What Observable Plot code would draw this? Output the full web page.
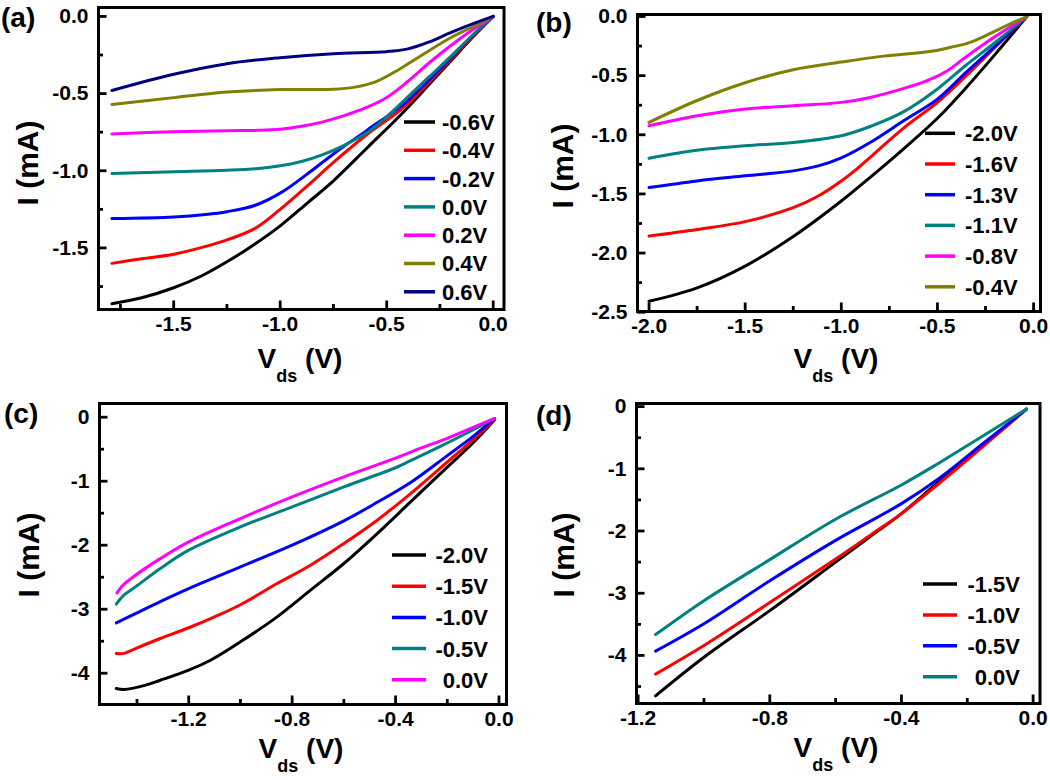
<!DOCTYPE html>
<html><head><meta charset="utf-8">
<script src="https://cdn.jsdelivr.net/npm/d3@7"></script>
<script src="https://cdn.jsdelivr.net/npm/@observablehq/plot@0.6"></script>
<style>
html,body{margin:0;padding:0;background:#fff;}
#wrap{position:relative;width:1050px;height:780px;overflow:hidden;background:#fff;}
#wrap svg{position:absolute;}
</style></head><body><div id="wrap"></div>
<script>
// ---------- DATA ----------
// Panel (a)
const aLabels = ["-0.6V","-0.4V","-0.2V","0.0V","0.2V","0.4V","0.6V"];
const aColors = ["#000000","#ff0000","#0000ff","#008080","#ff00ff","#808000","#000080"];
const a_m06 = [[-1.79,-1.862],[-1.65,-1.823],[-1.5,-1.758],[-1.37,-1.682],[-1.25,-1.59],[-1.12,-1.476],[-1.0,-1.357],[-0.87,-1.206],[-0.75,-1.065],[-0.59,-0.849],[-0.43,-0.632],[-0.3,-0.44],[-0.2,-0.29],[-0.1,-0.14],[0,0]];
const a_m04 = [[-1.79,-1.60],[-1.65,-1.57],[-1.5,-1.541],[-1.35,-1.49],[-1.25,-1.448],[-1.12,-1.375],[-1.0,-1.25],[-0.87,-1.095],[-0.75,-0.946],[-0.59,-0.762],[-0.43,-0.60],[-0.3,-0.425],[-0.2,-0.28],[-0.1,-0.135],[0,0]];
const a_m02 = [[-1.79,-1.31],[-1.5,-1.299],[-1.35,-1.283],[-1.25,-1.265],[-1.12,-1.225],[-1.0,-1.145],[-0.87,-1.018],[-0.75,-0.891],[-0.59,-0.735],[-0.43,-0.578],[-0.3,-0.41],[-0.2,-0.27],[-0.1,-0.13],[0,0]];
const a_p00 = [[-1.79,-1.017],[-1.5,-1.006],[-1.25,-0.996],[-1.1,-0.985],[-1.0,-0.968],[-0.9,-0.94],[-0.8,-0.895],[-0.7,-0.835],[-0.59,-0.751],[-0.5,-0.65],[-0.43,-0.56],[-0.3,-0.39],[-0.2,-0.26],[-0.1,-0.125],[0,0]];
const a_p02 = [[-1.79,-0.762],[-1.5,-0.747],[-1.25,-0.74],[-1.1,-0.738],[-1.0,-0.731],[-0.9,-0.712],[-0.8,-0.683],[-0.7,-0.643],[-0.6,-0.593],[-0.5,-0.525],[-0.4,-0.42],[-0.3,-0.30],[-0.2,-0.19],[-0.1,-0.09],[0,0]];
const a_p04 = [[-1.79,-0.57],[-1.5,-0.526],[-1.25,-0.49],[-1.0,-0.474],[-0.75,-0.472],[-0.65,-0.458],[-0.55,-0.422],[-0.45,-0.35],[-0.35,-0.264],[-0.2,-0.138],[-0.1,-0.07],[0,0]];
const a_p06 = [[-1.79,-0.48],[-1.5,-0.375],[-1.25,-0.306],[-1.0,-0.267],[-0.75,-0.241],[-0.5,-0.228],[-0.4,-0.21],[-0.3,-0.165],[-0.2,-0.105],[-0.1,-0.05],[0,0]];
const aXTicks = [-1.5,-1.0,-0.5,0.0];
const aXMinor = [-1.75,-1.25,-0.75,-0.25];
const aYTicks = [0.0,-0.5,-1.0,-1.5];
const aYMinor = [-0.25,-0.75,-1.25,-1.75];

// Panel (b)
const bLabels = ["-2.0V","-1.6V","-1.3V","-1.1V","-0.8V","-0.4V"];
const bColors = ["#000000","#ff0000","#0000ff","#008080","#ff00ff","#808000"];
const b_m20 = [[-2.0,-2.407],[-1.75,-2.294],[-1.5,-2.11],[-1.25,-1.86],[-1.0,-1.56],[-0.85,-1.36],[-0.67,-1.11],[-0.5,-0.86],[-0.35,-0.6],[-0.2,-0.32],[-0.035,0]];
const b_m16 = [[-2.0,-1.856],[-1.75,-1.80],[-1.5,-1.734],[-1.25,-1.616],[-1.12,-1.517],[-1.0,-1.39],[-0.92,-1.29],[-0.85,-1.19],[-0.67,-0.935],[-0.5,-0.726],[-0.35,-0.50],[-0.2,-0.26],[-0.035,0]];
const b_m13 = [[-2.0,-1.446],[-1.75,-1.39],[-1.5,-1.347],[-1.25,-1.305],[-1.12,-1.263],[-1.0,-1.195],[-0.85,-1.065],[-0.67,-0.875],[-0.5,-0.698],[-0.35,-0.47],[-0.2,-0.25],[-0.035,0]];
const b_m11 = [[-2.0,-1.198],[-1.75,-1.13],[-1.5,-1.093],[-1.25,-1.065],[-1.0,-1.008],[-0.85,-0.93],[-0.67,-0.8],[-0.5,-0.613],[-0.35,-0.41],[-0.2,-0.22],[-0.035,0]];
const b_m08 = [[-2.0,-0.924],[-1.75,-0.839],[-1.5,-0.782],[-1.25,-0.754],[-1.0,-0.726],[-0.85,-0.684],[-0.67,-0.605],[-0.55,-0.54],[-0.45,-0.46],[-0.35,-0.34],[-0.2,-0.17],[-0.035,0]];
const b_m04 = [[-2.0,-0.895],[-1.75,-0.71],[-1.5,-0.56],[-1.25,-0.45],[-1.0,-0.385],[-0.78,-0.335],[-0.53,-0.294],[-0.43,-0.26],[-0.33,-0.218],[-0.23,-0.147],[-0.14,-0.076],[-0.035,0]];
const bXTicks = [-2.0,-1.5,-1.0,-0.5,0.0];
const bXMinor = [-1.75,-1.25,-0.75,-0.25];
const bYTicks = [0.0,-0.5,-1.0,-1.5,-2.0,-2.5];
const bYMinor = [-0.25,-0.75,-1.25,-1.75,-2.25];

// Panel (c)
const cLabels = ["-2.0V","-1.5V","-1.0V","-0.5V","0.0V"];
const cColors = ["#000000","#ff0000","#0000ff","#008080","#ff00ff"];
const c_m20 = [[-1.48,-4.24],[-1.45,-4.255],[-1.37,-4.19],[-1.31,-4.11],[-1.2,-3.953],[-1.116,-3.797],[-1.0,-3.51],[-0.858,-3.12],[-0.729,-2.703],[-0.6,-2.286],[-0.471,-1.818],[-0.342,-1.323],[-0.2,-0.78],[-0.1,-0.40],[-0.017,-0.04]];
const c_m15 = [[-1.48,-3.693],[-1.45,-3.69],[-1.406,-3.615],[-1.31,-3.458],[-1.2,-3.29],[-1.1,-3.12],[-1.0,-2.93],[-0.858,-2.599],[-0.729,-2.312],[-0.6,-1.974],[-0.471,-1.609],[-0.342,-1.193],[-0.2,-0.70],[-0.1,-0.35],[-0.017,-0.03]];
const c_m10 = [[-1.48,-3.214],[-1.406,-3.068],[-1.31,-2.88],[-1.2,-2.677],[-1.0,-2.339],[-0.8,-2.0],[-0.6,-1.62],[-0.471,-1.33],[-0.342,-1.02],[-0.2,-0.6],[-0.1,-0.3],[-0.017,-0.02]];
const c_m05 = [[-1.48,-2.92],[-1.451,-2.78],[-1.406,-2.651],[-1.31,-2.365],[-1.2,-2.078],[-1.0,-1.714],[-0.8,-1.401],[-0.6,-1.089],[-0.4,-0.79],[-0.342,-0.68],[-0.213,-0.43],[-0.116,-0.23],[-0.017,-0.02]];
const c_p00 = [[-1.477,-2.745],[-1.458,-2.64],[-1.406,-2.469],[-1.31,-2.21],[-1.2,-1.948],[-1.0,-1.583],[-0.8,-1.245],[-0.6,-0.932],[-0.4,-0.64],[-0.3,-0.48],[-0.2,-0.33],[-0.1,-0.16],[-0.017,-0.02]];
const cXTicks = [-1.2,-0.8,-0.4,0.0];
const cXMinor = [-1.4,-1.0,-0.6,-0.2];
const cYTicks = [0,-1,-2,-3,-4];
const cYMinor = [-0.5,-1.5,-2.5,-3.5];

// Panel (d)
const dLabels = ["-1.5V","-1.0V","-0.5V","0.0V"];
const dColors = ["#000000","#ff0000","#0000ff","#008080"];
const d_m15 = [[-1.147,-4.65],[-1.0,-4.03],[-0.8,-3.28],[-0.6,-2.50],[-0.49,-2.07],[-0.4,-1.72],[-0.287,-1.21],[-0.15,-0.61],[-0.02,-0.04]];
const d_m10 = [[-1.147,-4.30],[-1.0,-3.84],[-0.8,-3.15],[-0.6,-2.45],[-0.49,-2.05],[-0.4,-1.72],[-0.287,-1.24],[-0.15,-0.63],[-0.02,-0.04]];
const d_m05 = [[-1.147,-3.93],[-1.0,-3.49],[-0.8,-2.80],[-0.6,-2.15],[-0.4,-1.56],[-0.287,-1.16],[-0.15,-0.585],[-0.02,-0.04]];
const d_p00 = [[-1.147,-3.665],[-1.0,-3.12],[-0.8,-2.46],[-0.6,-1.81],[-0.4,-1.26],[-0.287,-0.91],[-0.15,-0.463],[-0.02,-0.04]];
const dXTicks = [-1.2,-0.8,-0.4,0.0];
const dXMinor = [-1.0,-0.6,-0.2];
const dYTicks = [0,-1,-2,-3,-4];
const dYMinor = [-0.5,-1.5,-2.5,-3.5,-4.5];

// ---------- LAYOUT ----------
const FONT = "'Liberation Sans', Arial, Helvetica, sans-serif";
const fmt1 = d => (Math.abs(d) < 1e-9 ? 0 : d).toFixed(1);
const fmt0 = d => String(Math.abs(d) < 1e-9 ? 0 : d);

const panels = [
  {tag:"(a)", ox:0, oy:0, L:98, R:503.5, T:7, B:309, xDomain:[-1.853,0.0507], yDomain:[-1.899,0.058],
   xT:aXTicks, xM:aXMinor, yT:aYTicks, yM:aYMinor, xF:fmt1, yF:fmt1,
   series:[a_m06,a_m04,a_m02,a_p00,a_p02,a_p04,a_p06], labels:aLabels, colors:aColors,
   tagPos:[1,27], yTitle:[38,163], xTitle:[300,368],
   leg:{x1:404, x2:435, tx:442, anchor:"start", y0:122, dy:28.3}},
  {tag:"(b)", ox:525, oy:0, L:637, R:1040, T:14, B:311, xDomain:[-2.06,0.036], yDomain:[-2.494,0.017],
   xT:bXTicks, xM:bXMinor, yT:bYTicks, yM:bYMinor, xF:fmt1, yF:fmt1,
   series:[b_m20,b_m16,b_m13,b_m11,b_m08,b_m04], labels:bLabels, colors:bColors,
   tagPos:[536,32], yTitle:[573,166], xTitle:[836,368],
   leg:{x1:925, x2:955, tx:965, anchor:"start", y0:133.3, dy:30.7}},
  {tag:"(c)", ox:0, oy:390, L:99, R:506, T:403, B:704, xDomain:[-1.545,0.029], yDomain:[-4.489,0.214],
   xT:cXTicks, xM:cXMinor, yT:cYTicks, yM:cYMinor, xF:fmt1, yF:fmt0,
   series:[c_m20,c_m15,c_m10,c_m05,c_p00], labels:cLabels, colors:cColors,
   tagPos:[4,423], yTitle:[39,555], xTitle:[301,758],
   leg:{x1:392, x2:426, tx:488, anchor:"end", y0:555, dy:31.2}},
  {tag:"(d)", ox:525, oy:390, L:636, R:1039.5, T:403, B:703, xDomain:[-1.205,0.021], yDomain:[-4.773,0.05],
   xT:dXTicks, xM:dXMinor, yT:dYTicks, yM:dYMinor, xF:fmt1, yF:fmt0,
   series:[d_m15,d_m10,d_m05,d_p00], labels:dLabels, colors:dColors,
   tagPos:[536,425], yTitle:[574,555], xTitle:[836,757],
   leg:{x1:923, x2:957, tx:1020, anchor:"end", y0:584, dy:30.9}}
];

const wrap = document.getElementById("wrap");
const MAJOR = 8.5, MINOR = 5;

for (const p of panels) {
  const rows = [];
  p.series.forEach((s, i) => s.forEach(([x, y]) => rows.push({x, y, k: p.labels[i]})));
  const chart = Plot.plot({
    width: 525, height: 390,
    marginLeft: p.L - p.ox, marginRight: p.ox + 525 - p.R,
    marginTop: p.T - p.oy, marginBottom: p.oy + 390 - p.B,
    x: {domain: p.xDomain},
    y: {domain: p.yDomain},
    color: {domain: p.labels, range: p.colors},
    style: {fontFamily: FONT, fontSize: "21px", fontWeight: "bold", color: "#000", background: "transparent", overflow: "visible"},
    marks: [
      Plot.line(rows, {x: "x", y: "y", z: "k", stroke: "k", strokeWidth: 3, curve: "catmull-rom"}),
      // inward ticks: minor then major (negative tickSize points into the frame)
      Plot.axisX(p.xM, {tickSize: -MINOR, tickFormat: () => "", strokeWidth: 2.8, label: null}),
      Plot.axisY(p.yM, {tickSize: -MINOR, tickFormat: () => "", strokeWidth: 2.8, label: null}),
      Plot.axisX(p.xT, {tickSize: -MAJOR, tickPadding: MAJOR + 7, tickFormat: p.xF, strokeWidth: 2.8, label: null}),
      Plot.axisY(p.yT, {tickSize: -MAJOR, tickPadding: MAJOR + 10, tickFormat: p.yF, strokeWidth: 2.8, label: null}),
      Plot.frame({strokeWidth: 3, stroke: "#000"})
    ]
  });
  chart.style.left = p.ox + "px";
  chart.style.top = p.oy + "px";
  wrap.appendChild(chart);
}

// overlay: panel tags, axis titles, legends
const ov = d3.select(wrap).append("svg")
  .attr("width", 1050).attr("height", 780)
  .style("left", "0px").style("top", "0px")
  .style("font-family", FONT).style("font-weight", "bold");

for (const p of panels) {
  ov.append("text").attr("x", p.tagPos[0]).attr("y", p.tagPos[1])
    .attr("font-size", 28).text(p.tag);

  ov.append("text")
    .attr("transform", `translate(${p.yTitle[0]},${p.yTitle[1]}) rotate(-90)`)
    .attr("text-anchor", "middle").attr("font-size", 30).text("I (mA)");

  const xt = ov.append("text").attr("x", p.xTitle[0]).attr("y", p.xTitle[1])
    .attr("text-anchor", "middle").attr("font-size", 28);
  xt.append("tspan").text("V");
  xt.append("tspan").attr("font-size", 18).attr("dy", 14).text("ds");
  xt.append("tspan").attr("dy", -14).text("\u00a0(V)");

  const g = ov.append("g");
  p.labels.forEach((lab, i) => {
    const y = p.leg.y0 + i * p.leg.dy;
    g.append("line").attr("x1", p.leg.x1).attr("x2", p.leg.x2).attr("y1", y).attr("y2", y)
      .attr("stroke", p.colors[i]).attr("stroke-width", 3.5);
    g.append("text").attr("x", p.leg.tx).attr("y", y).attr("dy", "0.36em")
      .attr("text-anchor", p.leg.anchor).attr("font-size", 22).text(lab);
  });
}
</script>
</body></html>
